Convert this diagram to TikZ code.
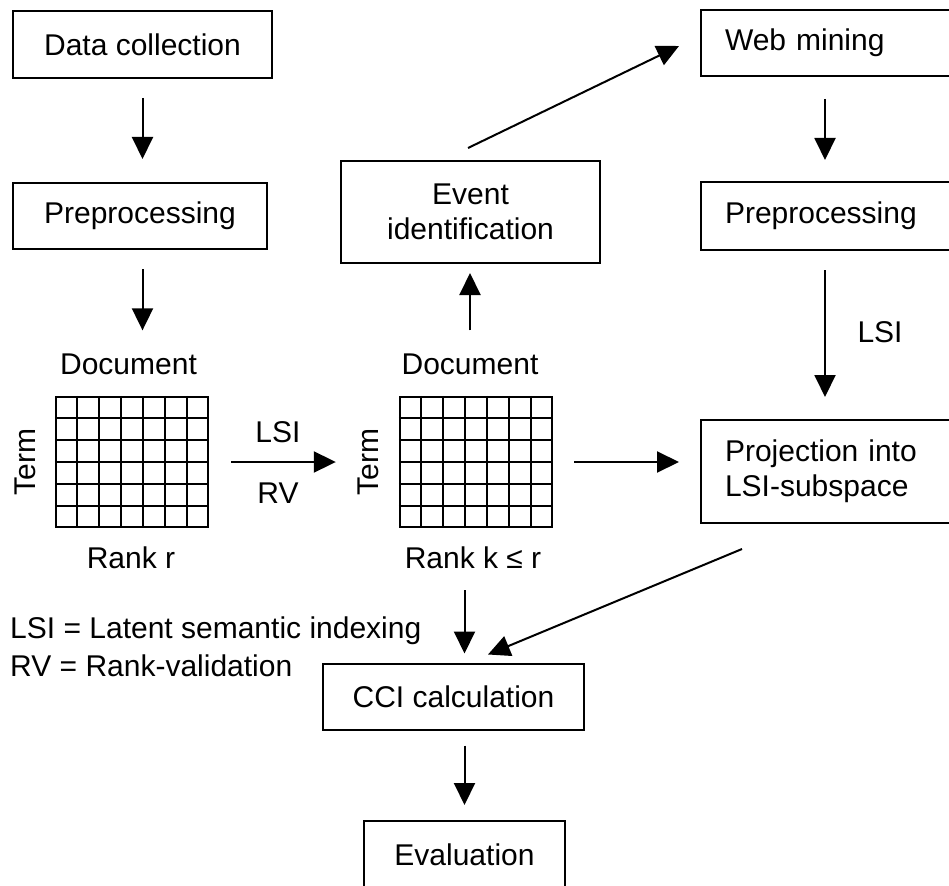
\documentclass[tikz,border=0pt]{standalone}
\usepackage{fontspec}
\setmainfont{Liberation Sans}
\usetikzlibrary{arrows.meta,calc}
\begin{document}
\begin{tikzpicture}[x=1pt,y=-1pt,
  every node/.style={font=\fontsize{30}{35}\selectfont},
  box/.style={draw, line width=2pt, inner sep=0pt, align=center},
  rbox/.style={draw, line width=2pt, anchor=north west, minimum width=300pt, text width=252pt, inner xsep=24pt, inner ysep=0pt, align=left},
  mat/.style={draw, line width=2.4pt, minimum width=152pt, minimum height=130pt, inner sep=0pt},
  gridline/.style={line width=2.3pt},
  arr/.style={line width=2pt, -{Triangle[length=22pt,width=21pt]}},
  lbl/.style={inner sep=0pt}]
\clip (0,0) rectangle (949,885);
\useasboundingbox (0,0) rectangle (949,885);

% left column
\node[box, minimum width=259pt, minimum height=67pt] (dc) at (142.5,44.5) {Data collection};
\node[box, minimum width=254pt, minimum height=66pt] (pre1) at (140,216) {Preprocessing};

% middle
\node[box, minimum width=259pt, minimum height=102pt] (ev) at (470.5,212) {Event\\identification};

% right column (cut off at right edge)
\node[rbox, minimum height=66pt] (web) at (700,9) {Web mining};
\node[rbox, minimum height=68pt] (pre2) at (700,181) {Preprocessing};
\node[rbox, minimum height=103pt] (proj) at (700,419) {Projection into\\LSI-subspace};

% matrices
\node[mat] (g1) at (132,462) {};
\node[mat] (g2) at (476,462) {};
\foreach \g in {g1,g2}{
  \foreach \i in {1,...,6}
    \draw[gridline] ($(\g.north west)!\i/7!(\g.north east)$) -- ($(\g.south west)!\i/7!(\g.south east)$);
  \foreach \j in {1,...,5}
    \draw[gridline] ($(\g.north west)!\j/6!(\g.south west)$) -- ($(\g.north east)!\j/6!(\g.south east)$);
}

% labels
\node[lbl] (doc1) at (128.5,364) {Document};
\node[lbl, rotate=90] (term1) at (25,462) {Term};
\node[lbl] (rank1) at (131,558) {Rank r};
\node[lbl] (doc2) at (470,364) {Document};
\node[lbl, rotate=90] (term2) at (368,462) {Term};
\node[lbl] (rank2) at (473,558) {Rank k ≤ r};
\node[lbl] (lsi1) at (278,432) {LSI};
\node[lbl] (rv) at (278,493) {RV};
\node[lbl] (lsi2) at (880,332) {LSI};

% legend
\node[lbl, anchor=base west] (leg1) at (10,638) {LSI = Latent semantic indexing};
\node[lbl, anchor=base west] (leg2) at (10,676) {RV = Rank-validation};

% bottom
\node[box, minimum width=261pt, minimum height=66pt] (cci) at (453.5,696.5) {CCI calculation};
\node[box, anchor=north, minimum width=201pt, minimum height=67pt] (eval) at (464.5,820) {Evaluation};

% arrows
\draw[arr, shorten <=19pt, shorten >=23pt] (dc.south) -- (dc.south |- pre1.north);
\draw[arr, shorten <=19pt, shorten >=23pt] (dc.south |- pre1.south) -- (dc.south |- doc1.north);
\draw[arr, shorten <=22pt, shorten >=63pt] (g1.east) -- (g1.east -| g2.west);
\draw[arr, shorten <=21pt, shorten >=21pt] (g2.east) -- (g2.east -| proj.west);
\draw[arr, shorten <=23pt, shorten >=9pt] (doc2.north) -- (doc2.north |- ev.south);
\draw[arr] ($(ev.north)+(-2.5,-12)$) -- ($(web.west)+(-21,3)$);
\draw[arr, shorten <=22pt, shorten >=21pt] ($(web.south west)+(125,0)$) -- ($(pre2.north west)+(125,0)$);
\draw[arr, shorten <=19pt, shorten >=22pt] ($(pre2.south west)+(125,0)$) -- ($(proj.north west)+(125,0)$);
\draw[arr, shorten <=21pt, shorten >=9pt] (rank2.south -| eval.north) -- (eval.north |- cci.north);
\draw[arr] ($(proj.south west)+(42,25)$) -- ($(cci.north)+(34.5,-8)$);
\draw[arr, shorten <=15pt, shorten >=15pt] (eval.north |- cci.south) -- (eval.north);
\end{tikzpicture}
\end{document}
